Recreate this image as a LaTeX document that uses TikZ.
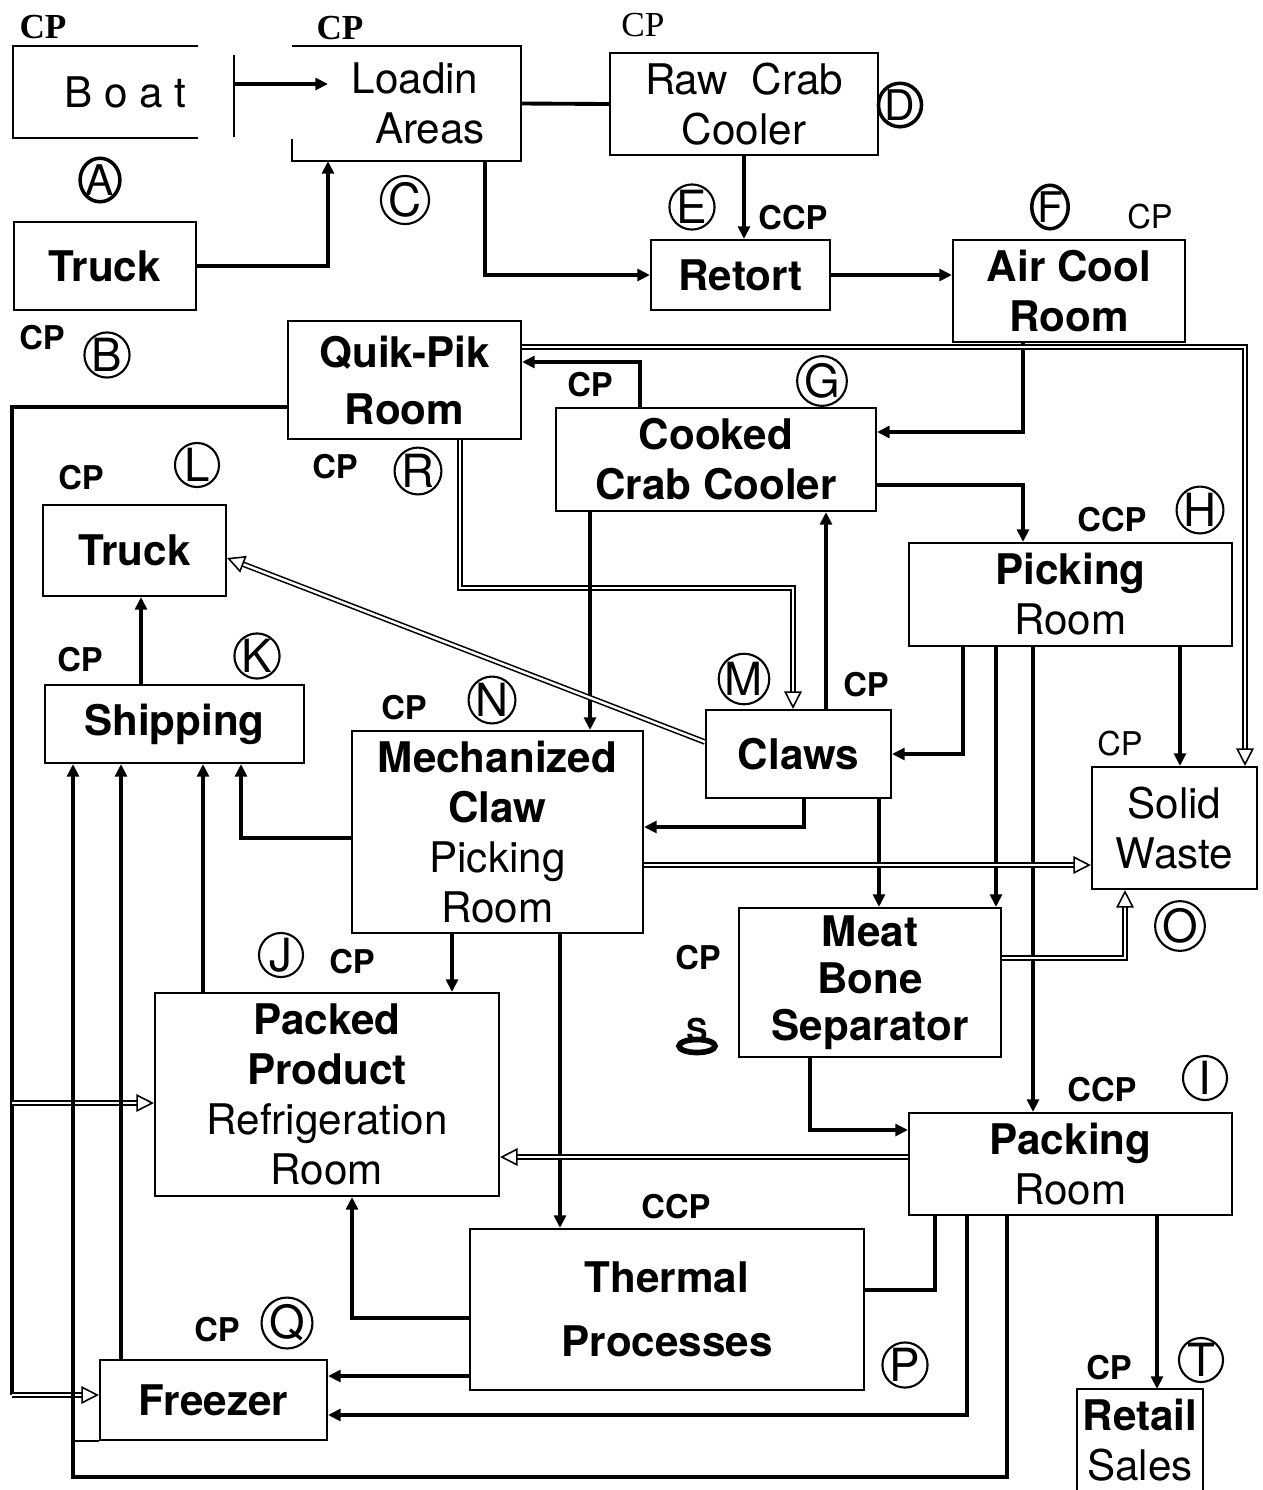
\documentclass[tikz,border=0pt]{standalone}
\usepackage{fontspec}
\setmainfont{TeX Gyre Heros}
\newfontfamily\cpserif{Liberation Serif}
\usetikzlibrary{arrows.meta,positioning,shapes.geometric}

\begin{document}
\begin{tikzpicture}[x=0.01cm, y=-0.01cm, >={Triangle[length=3.6pt,width=3.4pt]},
  blk/.style={draw, line width=0.6pt, inner sep=0pt, align=center,
              font=\bfseries\fontsize{12}{14.2}\selectfont},
  rgl/.style={font=\fontsize{12}{14.2}\selectfont},
  sz/.style 2 args={minimum width=#1*0.01cm, minimum height=#2*0.01cm},
  ltr/.style={circle, draw, line width=0.6pt, inner sep=0pt, minimum size=0.44cm,
              font=\fontsize{13}{14}\selectfont},
  odd/.style={ellipse, draw, line width=1pt, inner sep=0pt, minimum width=0.22cm,
              minimum height=0.42cm, font=\fontsize{12}{13}\selectfont},
  cp/.style={inner sep=0pt, font=\bfseries\fontsize{9.3}{10}\selectfont},
  cpr/.style={inner sep=0pt, font=\fontsize{9.3}{10}\selectfont},
  rim/.style={line width=0.6pt},
  link/.style={line width=1.1pt},
  flow/.style={->, line width=1.1pt},
  wst/.style={-{Triangle[open,length=5pt,width=5pt]}, line width=0.45pt,
              double, double distance=0.7pt}]
  \useasboundingbox (0,0) rectangle (1262,1490);

  % process boxes
  \node[blk, rgl, draw=none, sz={183}{90}] (boat) at (105.5,92) {\hspace*{0.4cm}B o a t};
  \node[blk, rgl, draw=none, sz={227}{113}] (loadin) at (406.5,103.5)
    {\hspace*{0.17cm}Loadin\\\hspace*{0.47cm}Areas};
  \node[blk, rgl, sz={268}{102}] (rawcrab) at (744,104) {Raw\ \ Crab\\Cooler};
  \node[blk, sz={179}{70}] (retort) at (740.5,275) {Retort};
  \node[blk, sz={232}{102}] (aircool) at (1069,291) {Air Cool\\Room};
  \node[blk, sz={182}{88}] (truckA) at (105,266) {Truck};
  \node[blk, sz={233}{118}] (quikpik) at (404.5,380) {Quik-Pik\\[2pt]Room};
  \node[blk, sz={320}{103}] (cooked) at (716,459.5) {Cooked\\Crab Cooler};
  \node[blk, sz={323}{103}] (picking) at (1070.5,594.5) {Picking\\\textmd{Room}};
  \node[blk, sz={183}{91}] (truckL) at (134.5,550.5) {Truck};
  \node[blk, sz={259}{78}] (shipping) at (174.5,724) {Shipping};
  \node[blk, sz={185}{88}] (claws) at (798.5,754) {Claws};
  \node[blk, sz={291}{202}] (mech) at (497.5,832)
    {Mechanized\\Claw\\\textmd{Picking}\\\textmd{Room}};
  \node[blk, rgl, sz={165}{122}] (solid) at (1174.5,828) {Solid\\Waste};
  \node[blk, sz={262}{149}] (meat) at (870,982.5) {Meat\\[-0.9pt]Bone\\[-0.9pt]Separator};
  \node[blk, sz={344}{203}] (packed) at (327,1094.5)
    {Packed\\Product\\\textmd{Refrigeration}\\\textmd{Room}};
  \node[blk, sz={323}{102}] (packing) at (1070.5,1164) {Packing\\\textmd{Room}};
  \node[blk, sz={394}{161}] (thermal) at (667,1309.5) {Thermal\\[3.9pt]Processes};
  \node[blk, sz={227}{80}] (freezer) at (213.5,1400) {Freezer};
  \node[blk, draw=none, sz={124}{100}] (retail) at (1140,1440) {Retail\\\textmd{Sales}};

  % open outlines
  \draw[rim] (boat.north east) -- (boat.north west) -- (boat.south west) -- (boat.south east);
  \draw[rim] (loadin.north west) -- (loadin.north east) -- (loadin.south east)
    -- (loadin.south west) -- ++(0,-22);
  \draw[rim] (retail.south west) -- (retail.north west) -- (retail.north east) -- (retail.south east);
  \draw[rim] (freezer.south west) -- (freezer.south west -| 73,0);

  % control point marks
  \node[cp, font=\cpserif\bfseries\fontsize{10}{11}\selectfont] (cpA) at (43,27) {CP};
  \node[cp, font=\cpserif\bfseries\fontsize{10}{11}\selectfont] (cpC) at (340,28) {CP};
  \node[cp, font=\cpserif\fontsize{10}{11}\selectfont] (cpD) at (643,25) {CP};
  \node[cp] (cpE) at (793,218) {CCP};
  \node[cpr] (cpF) at (1150,217) {CP};
  \node[cp] (cpB) at (42,338) {CP};
  \node[cp] (cpG) at (590,385) {CP};
  \node[cp] (cpR) at (335,467) {CP};
  \node[cp] (cpL) at (81,478) {CP};
  \node[cp] (cpH) at (1112,520) {CCP};
  \node[cp] (cpK) at (80,660) {CP};
  \node[cp] (cpM) at (866,685) {CP};
  \node[cp] (cpN) at (404,708) {CP};
  \node[cpr] (cpO) at (1120,744) {CP};
  \node[cp] (cpS) at (698,958) {CP};
  \node[cp] (cpJ) at (352,962) {CP};
  \node[cp] (cpI) at (1102,1090) {CCP};
  \node[cp] (cpP) at (676,1207) {CCP};
  \node[cp] (cpQ) at (217,1330) {CP};
  \node[cp] (cpT) at (1109,1368) {CP};

  % letters
  \node[odd] (lA) at (100,180) {A};
  \node[ltr] (lB) at (107,355) {B};
  \node[ltr] (lC) at (405,200) {C};
  \node[odd] (lD) at (900,105) {D};
  \node[ltr] (lE) at (692,207) {E};
  \node[odd] (lF) at (1050,207) {F};
  \node[ltr] (lG) at (822,381) {G};
  \node[ltr] (lH) at (1200,510) {H};
  \node[ltr] (lI) at (1205,1078) {I};
  \node[ltr] (lJ) at (281,955) {J};
  \node[ltr] (lK) at (257,656) {K};
  \node[ltr] (lL) at (197,465) {L};
  \node[ltr] (lM) at (744,679) {M};
  \node[ltr] (lN) at (492,700) {N};
  \node[ltr] (lO) at (1180,926) {O};
  \node[ltr] (lP) at (905,1365) {P};
  \node[ltr] (lQ) at (287,1323) {Q};
  \node[ltr] (lR) at (418,471) {R};
  \node[ltr] (lT) at (1201,1360) {T};
  \node[inner sep=0pt, font=\bfseries\fontsize{9}{10}\selectfont] (lS) at (697,1030) {S};
  \node[ellipse, draw, line width=1.6pt, inner sep=0pt, minimum width=0.36cm,
        minimum height=0.13cm] (lSring) at (697,1046) {};

  % receiving
  \coordinate (barT) at (234,55);
  \coordinate (barB) at (234,137);
  \coordinate (ldin) at (328,84);
  \draw[rim] (barT) -- (barB);
  \draw[flow] (barT |- ldin) -- (ldin);
  \draw[flow] (truckA.east) -| (loadin.south -| 328,0);
  \draw[link] (loadin.east) -- (rawcrab.west);
  \draw[flow] (rawcrab.south) -- (rawcrab.south |- retort.north);
  \draw[flow] (loadin.south -| 485,0) |- (retort.west);
  \draw[flow] (retort.east) -- (retort.east -| aircool.west);
  \draw[flow] (aircool.south -| 1023,0) |- (cooked.east |- 0,432);
  \draw[flow] (cooked.north -| 640,0) |- (quikpik.east |- 0,362);
  \draw[wst] (quikpik.east |- 0,347) -| (solid.north -| 1245,0);
  \draw[flow] (cooked.east |- 0,485) -| (picking.north -| 1023,0);

  % quik-pik side loop
  \coordinate (sideT) at (12,407);
  \coordinate (sideB) at (12,1395);
  \draw[link] (quikpik.west |- sideT) -- (sideT) -- (sideB);
  \draw[wst] (sideB) -- (freezer.west |- sideB);
  \draw[wst] (sideT |- 0,1103) -- (packed.west |- 0,1103);
  \draw[wst] (quikpik.south -| 460,0) |- (793,588) -- (claws.north -| 793,0);

  % claws and picking
  \draw[flow] (cooked.south -| 590,0) -- (mech.north -| 590,0);
  \draw[flow] (claws.north -| 826,0) -- (cooked.south -| 826,0);
  \draw[wst] (claws.west |- 0,742) -- (truckL.east |- 0,558);
  \draw[flow] (shipping.north -| 141,0) -- (truckL.south -| 141,0);
  \draw[flow] (picking.south -| 963,0) |- (claws.east);
  \draw[flow] (picking.south -| 996,0) -- (meat.north -| 996,0);
  \draw[flow] (picking.south -| 1033,0) -- (packing.north -| 1033,0);
  \draw[flow] (picking.south -| 1180,0) -- (solid.north -| 1180,0);
  \draw[flow] (claws.south -| 804,0) |- (mech.east |- 0,827);
  \draw[flow] (claws.south -| 879,0) -- (meat.north -| 879,0);
  \draw[wst] (mech.east |- 0,865) -- (solid.west |- 0,865);
  \draw[flow] (mech.west |- 0,838) -| (shipping.south -| 241,0);
  \draw[flow] (mech.south -| 452,0) -- (packed.north -| 452,0);
  \draw[flow] (mech.south -| 560,0) -- (thermal.north -| 560,0);
  \draw[wst] (meat.east |- 0,958) -| (solid.south -| 1125,0);
  \draw[flow] (meat.south -| 810,0) |- (packing.west |- 0,1130);

  % packing and storage
  \coordinate (btm) at (73,1477);
  \draw[wst] (packing.west |- 0,1157) -- (packed.east |- 0,1157);
  \draw[link] (thermal.east |- 0,1290) -| (packing.south -| 935,0);
  \draw[flow] (packing.south -| 967,0) |- (freezer.east |- 0,1415);
  \draw[flow] (packing.south -| 1007,0) |- (btm) -- (shipping.south -| btm);
  \draw[flow] (thermal.west |- 0,1318) -| (packed.south -| 352,0);
  \draw[flow] (thermal.west |- 0,1376) -- (freezer.east |- 0,1376);
  \draw[flow] (packed.north -| 203,0) -- (shipping.south -| 203,0);
  \draw[flow] (freezer.north -| 121,0) -- (shipping.south -| 121,0);
  \draw[flow] (packing.south -| 1157,0) -- (retail.north -| 1157,0);
\end{tikzpicture}
\end{document}
